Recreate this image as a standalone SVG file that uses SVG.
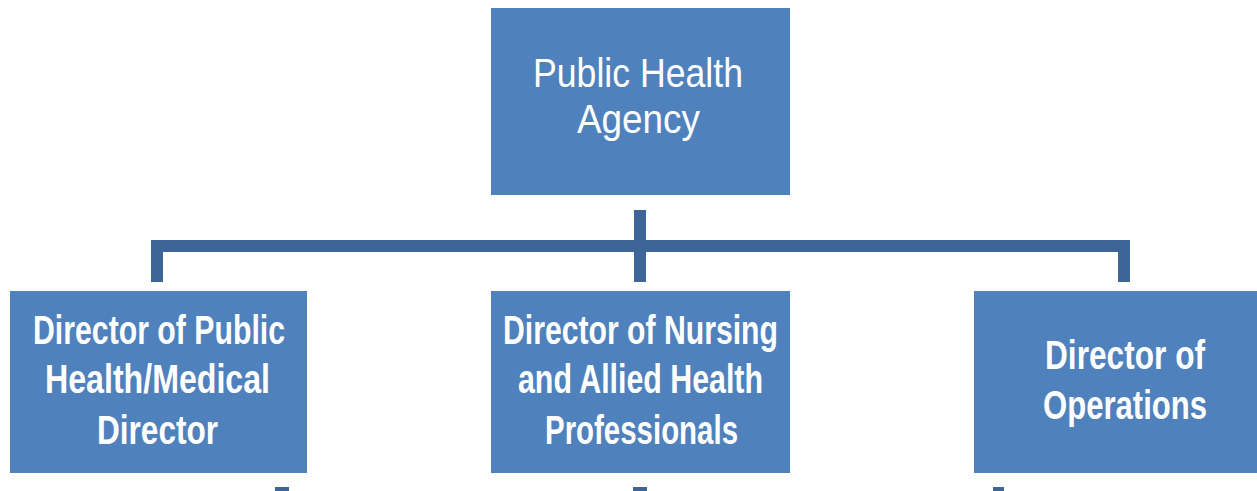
<svg xmlns="http://www.w3.org/2000/svg" width="1257" height="491" viewBox="0 0 1257 491">
<style>
.box{fill:#4F81BD}
.t{fill:#FFFFFF;font-family:"Liberation Sans",Arial,sans-serif;text-anchor:start}
.top{font-size:41px}
.sub{font-size:40px;font-weight:bold}
.conn{fill:none;stroke:#3E6598;stroke-width:12;stroke-linejoin:miter}
</style>
<rect width="1257" height="491" fill="#FFFFFF"/>
<g id="connectors">
<path class="conn" d="M157,282 V246 H1124 V282"/>
<path class="conn" d="M640,210 V282"/>
<rect x="275" y="487" width="14" height="4" fill="#3E6598"/>
<rect x="633" y="487" width="14" height="4" fill="#3E6598"/>
<rect x="993" y="487" width="11" height="4" fill="#3E6598"/>
</g>
<g id="node-agency">
<rect class="box" x="491" y="8" width="299" height="187"/>
<text class="t top" x="533" y="87" textLength="210" lengthAdjust="spacingAndGlyphs">Public Health</text>
<text class="t top" x="577" y="133" textLength="123" lengthAdjust="spacingAndGlyphs">Agency</text>
</g>
<g id="node-public-health">
<rect class="box" x="10" y="291" width="297" height="182"/>
<text class="t sub" x="33" y="344" textLength="252" lengthAdjust="spacingAndGlyphs">Director of Public</text>
<text class="t sub" x="45" y="393" textLength="225" lengthAdjust="spacingAndGlyphs">Health/Medical</text>
<text class="t sub" x="97" y="444" textLength="121" lengthAdjust="spacingAndGlyphs">Director</text>
</g>
<g id="node-nursing">
<rect class="box" x="491" y="291" width="299" height="182"/>
<text class="t sub" x="503" y="344" textLength="275" lengthAdjust="spacingAndGlyphs">Director of Nursing</text>
<text class="t sub" x="518" y="393" textLength="245" lengthAdjust="spacingAndGlyphs">and Allied Health</text>
<text class="t sub" x="545" y="444" textLength="193" lengthAdjust="spacingAndGlyphs">Professionals</text>
</g>
<g id="node-operations">
<rect class="box" x="974" y="291" width="299" height="182"/>
<text class="t sub" x="1045" y="369" textLength="160" lengthAdjust="spacingAndGlyphs">Director of</text>
<text class="t sub" x="1043" y="419" textLength="164" lengthAdjust="spacingAndGlyphs">Operations</text>
</g>
</svg>
